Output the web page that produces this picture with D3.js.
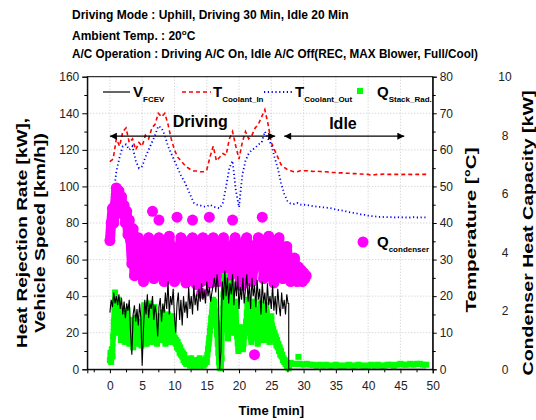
<!DOCTYPE html>
<html><head><meta charset="utf-8">
<script src="https://cdn.jsdelivr.net/npm/d3@7"></script>
<style>body{margin:0;background:#fff}svg{display:block}text{font-family:"Liberation Sans",Arial,sans-serif}</style>
</head><body><svg id="c" width="536" height="420"></svg>
<script>
// ---------------- data ----------------
const timeTicks = [0,5,10,15,20,25,30,35,40,45,50];
const leftTicks = [0,20,40,60,80,100,120,140,160];
const tempTicks = [0,10,20,30,40,50,60,70,80];
const condTicks = [0,2,4,6,8,10];

// Vehicle speed [km/h], every 0.2 min from t=0 to 27.6
const speedStart = 0, speedStep = 0.2;
const speedValues = [31,38,34,42,36,40,35,41, 33,39,30,37,28,36,32,38, 20,8,30, 35,26,33,24,36,28, 2,22,
 38,30,41,28,36,33,40,27,35, 30,18,34,39,26,36,31, 42,33,48,30,40,35,44,29,
 20,36,42,27,38,24,40,31,37,28, 45,33,40,30,46,35,41,32,44,37, 47,38,43,36,48,40,45,37,42,46,
 50,42,52,44, 0,10, 48,38,54,40,50,36,47,41,52, 35,48,40,51,33,45,38,50,36,44,
 52,37,47,33,50,40,46,34,49,38, 44,30,48,36,42,31,47,35,40,33, 46,32,40,30,44,35,29,42,33,38,30,41,36];
const speedIdleTimes = [27.7, 27.7, 49];
const speedIdleValues = [36, 0, 0];

// Stack radiator heat rejection [kW], every 0.1 min from t=0 to 27.7
const stackStart = 0, stackStep = 0.1;
const stackValues = [5,9,4,11,7,
 18,26,34,42,36,28,20,24,32,38,30,
 22,16,20,26,31,27,21,15,19,24,30,32,25,18,14,
 18,23,27,22,17,12,15,20,25,28,24,19,14,16,21,26,22,17,13,19,
 24,30,35,29,23,17,14,19,25,31,36,32,26,20,15,18,24,30,34,28,
 22,17,14,19,24,29,25,20,16,21,
 26,31,27,22,17,14,18,23,28,30,24,19,15,17,22,27,29,23,18,15,
 17,14,16,12,15,11,13,9,12,8,10,7,9,5,8,4,6,3,5,3,
 4,3,5,2,4,6,3,2,4,5,3,2,3,5,4,2,3,4,6,3,2,4,5,3,2,4,3,5,6,4,
 8,11,14,17,21,24,28,31,35,38,34,37,32,28,24,19,14,
 9,4,1,0.5,2,6,
 25,33,41,48,51,45,38,30,22,17,21,28,35,42,47,40,33,26,20,24,31,37,
 22,18,14,10,13,17,21,23,19,15,11,14,18,22,20,
 26,31,36,38,33,28,23,18,15,19,24,29,34,37,32,27,22,17,14,18,23,28,33,36,31,26,21,16,19,24,30,35,31,26,21,17,15,20,25,29,
 24,19,22,17,20,15,18,13,16,12,14,10,12,8,10,7,8,5,6,4,5,3,3,2,1.5,1,0.5];
// idle part, every 0.5 min from t=28 to 49
const stackIdleStart = 28, stackIdleStep = 0.5;
const stackIdleValues = [3.5,3,3,3,2.5,3,2.5,2.5,2,2.5, 2,2.5,2,2,2.5,2,2,2,2.5,2,
 2,2.5,2,2,2,2.5,2,2.5,2,2, 2.5,2.5,2,2.5,3,2.5,2.5,3,2.5,3, 3,2.5,2.5];
const stackOutlierTimes = [29.2];
const stackOutlierValues = [6.8];

// Condenser heat capacity [kW], every 0.2 min from t=0 to 30.4
const condStart = 0, condStep = 0.2;
const condValues = [4.4,5.0,5.5,5.0,5.6, 6.2,5.8,6.1,5.6,5.9,5.3, 5.6,5.0,5.4,4.6,5.1, 4.4,3.6,4.8,3.2,4.2,
 3.8,4.5,4.1,3.6,3.2,3.0,3.4,3.9,4.3,4.5, 4.0,3.6,4.3,3.1,3.5,3.9,4.4,4.5,4.2,3.8,
 3.3,3.0,3.5,3.9,4.3,4.55,4.1,3.7,3.2,3.0, 3.4,3.8,3.8,4.2,4.5,4.0,3.6,3.1,2.95,3.5,
 3.9,4.4,4.1,4.5,3.6,3.2,2.9,3.4,3.8,4.3, 3.0,4.5,4.0,3.5,3.1,3.6,4.2,2.95,4.1,4.5,
 4.1,3.7,3.2,3.0,3.5,3.9,4.4,4.5,4.0,3.5, 3.1,2.95,3.4,3.8,4.1,4.3,4.5,4.0,3.6,3.2,
 3.0,2.85,3.5,3.9,4.4,4.5,4.1,3.6,3.2,3.0, 3.4,3.7,3.9,4.3,4.5,4.0,3.6,4.4,3.1,3.5,
 3.9,4.4,4.55,4.1,3.7,3.2,2.95,3.4,3.8,4.3, 4.5,4.0,3.6,3.1,3.5,3.9,4.2,3.7,3.3,3.0,
 3.6,3.2,3.8,3.4,3.0,3.5,3.2,3.4,3.0,3.3,3.1,3.2];
const condOutlierTimes = [6.6, 7.6, 10.4, 12.8, 14.2, 15.4, 19.0, 22.4, 23.6];
const condOutlierValues = [5.4, 5.1, 5.2, 5.1, 2.6, 5.2, 5.1, 0.5, 5.2];

// Coolant temperatures [°C], every 0.5 min from t=0 to 49
const tempStart = 0, tempStep = 0.5;
const coolantIn = [56.8,57.5,63,61,65,66,62,63,60,62, 61,64,63,66,67,70,69,70,67,63,
 60,58,57,56,55.2,54.6,54.2,54.2,54,54, 54.5,58,61,57,58,59,58.5,63,65,61,
 57.5,62,65,63,64,66,67,69,71,67, 62,60,58,56,55.2,54.6,54.3,54,54,54.3, 54.3,
 54.3,54.2,54.1,54.2,54.1,54.0,54.0,53.9,53.8,53.8, 53.7,53.7,53.6,53.6,53.5,53.5,53.4,53.4,53.3,53.3,
 53.0,53.2,53.3,53.3,53.4,53.3,53.3,53.3,53.3,53.2, 53.3,53.3,53.3,53.2,53.3,53.3,53.3,53.3];
const coolantOut = [44.5,47,54,58,61,61.5,60,61,57,55, 55.5,58,60,62,64,66.5,66,64,61,59,
 57,55,53,51.5,49.5,47.5,45.5,45,44.8,44.5, 44.5,45,44.5,44.2,44,45.5,50,55,57,49,
 44.3,53,57,59,60,60.5,61.5,62,65,63, 61.5,58,55,51,48,46,45.3,45.2,45.5,45, 45,
 44.9,44.8,44.6,44.5,44.4,44.3,44.2,44.1,43.9,43.7, 43.5,43.4,43.2,43.0,42.8,42.7,42.5,42.3,42.2,42.0,
 41.9,41.8,41.7,41.7,41.6,41.6,41.6,41.5,41.6,41.5, 41.6,41.5,41.5,41.6,41.5,41.5,41.6,41.5];

// ---------------- layout ----------------
const svg = d3.select("#c");
const L=87.3, R=432.7, T=76.7, B=369.3;
const x = d3.scaleLinear().domain([-3.5,50]).range([L,R]);
const yL = d3.scaleLinear().domain([0,160]).range([B,T]);
const yT = d3.scaleLinear().domain([0,80]).range([B,T]);
const yC = d3.scaleLinear().domain([0,10]).range([B,T]);

const series = (start, step, vals) => vals.map((v,i)=>({t:+(start+i*step).toFixed(3), v}));
const pairs = (ts, vs) => ts.map((t,i)=>({t, v:vs[i]}));

// titles
const tg = svg.append("g").attr("font-weight","bold").attr("font-size",12).attr("fill","#000");
tg.append("text").attr("x",72).attr("y",19).text("Driving Mode : Uphill, Driving 30 Min, Idle 20 Min");
const t2 = tg.append("text").attr("x",72).attr("y",40).text("Ambient Temp. : 20");
t2.append("tspan").attr("font-size",8).attr("dy",-5).text("o");
t2.append("tspan").attr("dy",5).text("C");
tg.append("text").attr("x",72).attr("y",58).attr("textLength",406).attr("lengthAdjust","spacingAndGlyphs")
  .text("A/C Operation : Driving A/C On, Idle A/C Off(REC, MAX Blower, Full/Cool)");

// grid
const grid = svg.append("g").attr("stroke","#c8c8c8").attr("stroke-width",1).attr("stroke-dasharray","1,2");
timeTicks.filter(d=>d<50).forEach(d=>grid.append("line").attr("x1",x(d)).attr("x2",x(d)).attr("y1",T).attr("y2",B));
leftTicks.filter(d=>d>0&&d<160).forEach(d=>grid.append("line").attr("x1",L).attr("x2",R).attr("y1",yL(d)).attr("y2",yL(d)));

// data marks
const plot = svg.append("g");
const tIn = series(tempStart,tempStep,coolantIn);
const tOut = series(tempStart,tempStep,coolantOut);
plot.append("path").datum(tIn).attr("fill","none").attr("stroke","#ff0000").attr("stroke-width",1.6)
  .attr("stroke-dasharray","4,3").attr("d",d3.line().x(d=>x(d.t)).y(d=>yT(d.v)));
plot.append("path").datum(tOut).attr("fill","none").attr("stroke","#0000ff").attr("stroke-width",1.8)
  .attr("stroke-dasharray","1.2,2.6").attr("d",d3.line().x(d=>x(d.t)).y(d=>yT(d.v)));

// condenser: dense symbols (joined so the scatter reads as a solid cloud) + isolated points
const cond = series(condStart,condStep,condValues);
const condLine = d3.line().x(d=>x(d.t)).y(d=>yC(d.v));
plot.append("path").datum(cond).attr("fill","none").attr("stroke","#ff00ff").attr("stroke-width",10)
  .attr("stroke-linejoin","round").attr("stroke-linecap","round").attr("d",condLine);
plot.append("g").selectAll("circle").data(cond.concat(pairs(condOutlierTimes,condOutlierValues))).join("circle")
  .attr("cx",d=>x(d.t)).attr("cy",d=>yC(d.v)).attr("r",5.5).attr("fill","#ff00ff");

// stack radiator
const stack = series(stackStart,stackStep,stackValues).concat(series(stackIdleStart,stackIdleStep,stackIdleValues));
const stackLine = d3.line().x(d=>x(d.t)).y(d=>yL(d.v));
plot.append("path").datum(stack).attr("fill","none").attr("stroke","#00ff00").attr("stroke-width",5.5)
  .attr("stroke-linejoin","round").attr("d",stackLine);
plot.append("g").selectAll("rect").data(stack.concat(pairs(stackOutlierTimes,stackOutlierValues))).join("rect")
  .attr("x",d=>x(d.t)-3).attr("y",d=>yL(d.v)-3).attr("width",6).attr("height",6).attr("fill","#00ff00");

const speed = series(speedStart,speedStep,speedValues).concat(pairs(speedIdleTimes,speedIdleValues));
plot.append("path").datum(speed).attr("fill","none").attr("stroke","#000").attr("stroke-width",1.1)
  .attr("d",d3.line().x(d=>x(d.t)).y(d=>yL(d.v)));

// frame + axes
svg.append("rect").attr("x",L).attr("y",T).attr("width",R-L).attr("height",B-T).attr("fill","none").attr("stroke","#000").attr("stroke-width",1);

function styleAxis(g){ g.selectAll("text").attr("font-size",12).attr("fill","#222").attr("font-family","Liberation Sans, Arial, sans-serif");
  g.selectAll("line,path").attr("stroke","#000"); }

const minorLeft = d3.range(10,160,20);
svg.append("g").attr("transform",`translate(${L},0)`).call(d3.axisLeft(yL).tickValues(leftTicks).tickSize(5).tickPadding(3)).call(styleAxis);
svg.append("g").attr("transform",`translate(${L},0)`).call(d3.axisLeft(yL).tickValues(minorLeft).tickSize(3).tickFormat("")).call(g=>g.select(".domain").remove()).call(styleAxis);

const minorTime = d3.range(-2.5,50,5);
svg.append("g").attr("transform",`translate(0,${B})`).call(d3.axisBottom(x).tickValues(timeTicks).tickSize(4).tickPadding(8)).call(styleAxis);
svg.append("g").attr("transform",`translate(0,${B})`).call(d3.axisBottom(x).tickValues(minorTime).tickSize(3).tickFormat("")).call(g=>g.select(".domain").remove()).call(styleAxis);

const minorTemp = d3.range(5,80,10);
svg.append("g").attr("transform",`translate(${R},0)`).call(d3.axisRight(yT).tickValues(tempTicks).tickSize(4).tickPadding(3)).call(styleAxis);
svg.append("g").attr("transform",`translate(${R},0)`).call(d3.axisRight(yT).tickValues(minorTemp).tickSize(3).tickFormat("")).call(g=>g.select(".domain").remove()).call(styleAxis);

const cAx = svg.append("g").attr("transform",`translate(505,0)`).call(d3.axisRight(yC).tickValues(condTicks).tickSize(0).tickPadding(0)).call(styleAxis);
cAx.select(".domain").remove();
cAx.selectAll("text").attr("text-anchor","middle").attr("x",0);

// axis titles
const at = svg.append("g").attr("font-weight","bold").attr("fill","#000");
at.append("text").attr("x",(x(0)+x(50))/2).attr("y",415).attr("text-anchor","middle").attr("font-size",13).text("Time [min]");
at.append("text").attr("transform",`translate(27,233) rotate(-90)`).attr("text-anchor","middle").attr("font-size",14)
  .attr("textLength",230).attr("lengthAdjust","spacingAndGlyphs").text("Heat Rejection Rate [kW],");
at.append("text").attr("transform",`translate(45,233) rotate(-90)`).attr("text-anchor","middle").attr("font-size",14)
  .attr("textLength",200).attr("lengthAdjust","spacingAndGlyphs").text("Vehicle Speed [km/h])");
at.append("text").attr("transform",`translate(476,230) rotate(-90)`).attr("text-anchor","middle").attr("font-size",14)
  .attr("textLength",165).attr("lengthAdjust","spacingAndGlyphs").text("Temperature [°C]");
at.append("text").attr("transform",`translate(533,233) rotate(-90)`).attr("text-anchor","middle").attr("font-size",14)
  .attr("textLength",285).attr("lengthAdjust","spacingAndGlyphs").text("Condenser Heat Capacity [kW]");

// legend
const lg = svg.append("g").attr("font-weight","bold").attr("fill","#000");
const ly = 92;
lg.append("line").attr("x1",103).attr("x2",130).attr("y1",ly).attr("y2",ly).attr("stroke","#000").attr("stroke-width",1.2);
const lt1 = lg.append("text").attr("x",133).attr("y",ly+5).attr("font-size",15).text("V");
lt1.append("tspan").attr("font-size",8).attr("dy",5).text("FCEV");
lg.append("line").attr("x1",182).attr("x2",211).attr("y1",ly).attr("y2",ly).attr("stroke","#ff0000").attr("stroke-width",1.6).attr("stroke-dasharray","4,3");
const lt2 = lg.append("text").attr("x",213).attr("y",ly+5).attr("font-size",15).text("T");
lt2.append("tspan").attr("font-size",8).attr("dy",5).text("Coolant_In");
lg.append("line").attr("x1",264).attr("x2",294).attr("y1",ly).attr("y2",ly).attr("stroke","#0000ff").attr("stroke-width",1.8).attr("stroke-dasharray","1.2,2.6");
const lt3 = lg.append("text").attr("x",295).attr("y",ly+5).attr("font-size",15).text("T");
lt3.append("tspan").attr("font-size",8).attr("dy",5).text("Coolant_Out");
lg.append("rect").attr("x",357).attr("y",ly-4).attr("width",6).attr("height",6).attr("fill","#00ff00");
const lt4 = lg.append("text").attr("x",377).attr("y",ly+5).attr("font-size",15).text("Q");
lt4.append("tspan").attr("font-size",8).attr("dy",5).text("Stack_Rad.");
lg.append("circle").attr("cx",363).attr("cy",242).attr("r",5.5).attr("fill","#ff00ff");
const lt5 = lg.append("text").attr("x",377).attr("y",247).attr("font-size",15).text("Q");
lt5.append("tspan").attr("font-size",8).attr("dy",5).text("condenser");

// annotations
const defs = svg.append("defs");
defs.append("marker").attr("id","ah").attr("viewBox","0 0 10 10").attr("refX",10).attr("refY",5)
  .attr("markerWidth",9).attr("markerHeight",7).attr("markerUnits","userSpaceOnUse").attr("orient","auto-start-reverse")
  .append("path").attr("d","M0,0L10,5L0,10Z").attr("fill","#000");
const ay = yL(127.5);
svg.append("line").attr("x1",x(0)).attr("x2",x(25.6)).attr("y1",ay).attr("y2",ay).attr("stroke","#000").attr("stroke-width",1.3)
  .attr("marker-start","url(#ah)").attr("marker-end","url(#ah)");
svg.append("line").attr("x1",x(27)).attr("x2",x(45.6)).attr("y1",ay).attr("y2",ay).attr("stroke","#000").attr("stroke-width",1.3)
  .attr("marker-start","url(#ah)").attr("marker-end","url(#ah)");
svg.append("text").attr("x",x(14)).attr("y",ay-9).attr("text-anchor","middle").attr("font-size",16).attr("font-weight","bold").text("Driving");
svg.append("text").attr("x",x(36.1)).attr("y",ay-7).attr("text-anchor","middle").attr("font-size",16).attr("font-weight","bold").text("Idle");
</script></body></html>
